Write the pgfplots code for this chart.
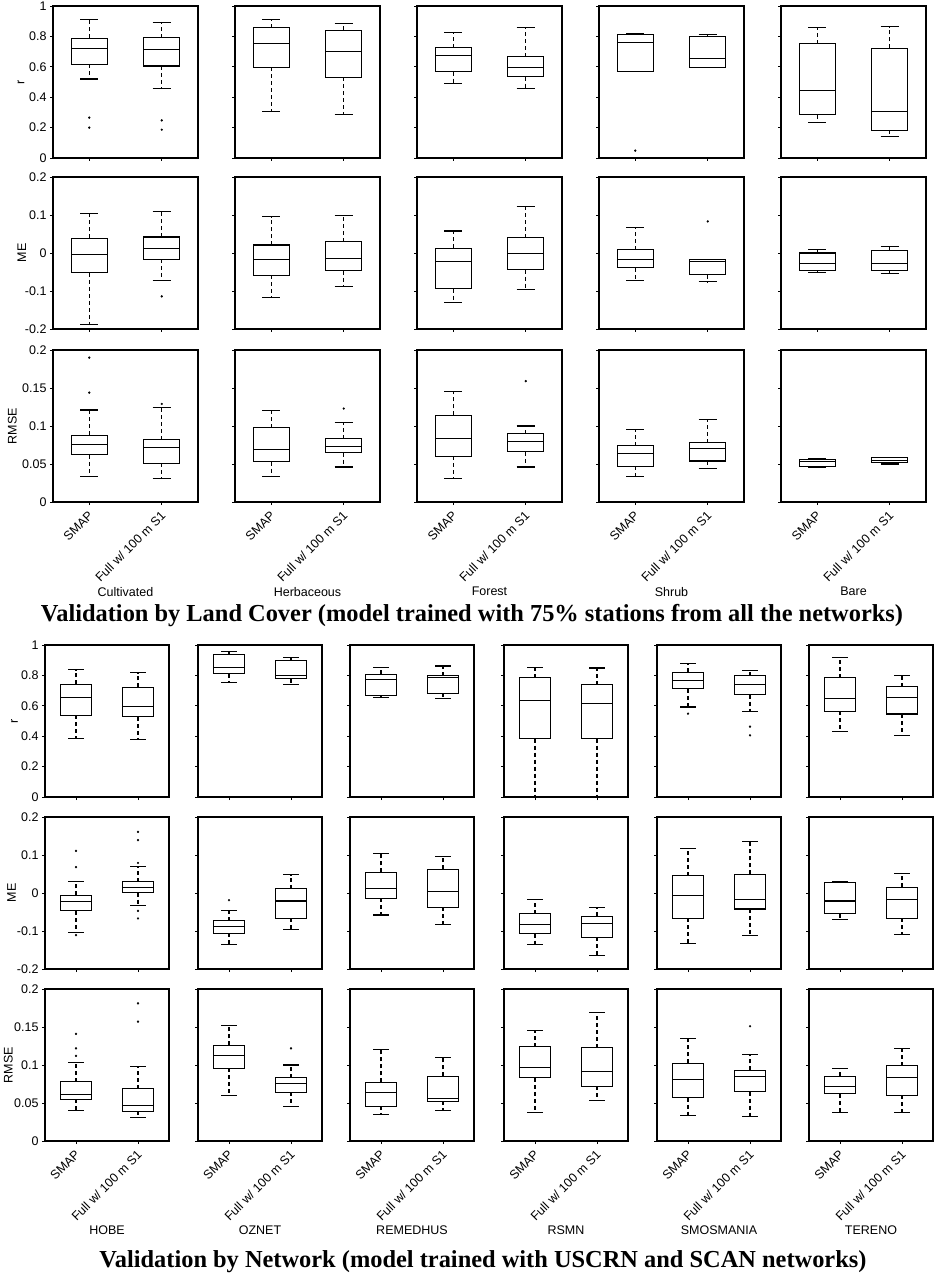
\documentclass[border=0pt]{standalone}
\usepackage{fontspec}
\setmainfont{Liberation Sans}
\newfontfamily\ttlfont{Liberation Serif}
\usepackage{pgfplots}
\pgfplotsset{compat=1.18}
\usepgfplotslibrary{statistics}

% dashed whisker, solid cap
\pgfplotsset{
  boxplot/draw/lower whisker/.code={%
    \draw[line width=1.1pt, dash pattern=on 4pt off 3pt]
      (boxplot cs:\pgfplotsboxplotvalue{lower quartile}) --
      (boxplot cs:\pgfplotsboxplotvalue{lower whisker});
    \draw[line width=1.1pt]
      (boxplot whisker cs:\pgfplotsboxplotvalue{lower whisker},0) --
      (boxplot whisker cs:\pgfplotsboxplotvalue{lower whisker},1);
  },
  boxplot/draw/upper whisker/.code={%
    \draw[line width=1.1pt, dash pattern=on 4pt off 3pt]
      (boxplot cs:\pgfplotsboxplotvalue{upper quartile}) --
      (boxplot cs:\pgfplotsboxplotvalue{upper whisker});
    \draw[line width=1.1pt]
      (boxplot whisker cs:\pgfplotsboxplotvalue{upper whisker},0) --
      (boxplot whisker cs:\pgfplotsboxplotvalue{upper whisker},1);
  },
  pan/.style={
    scale only axis, height=152pt, anchor=north west,
    xmin=0.5, xmax=2.5, xtick={1,2}, xticklabels={},
    axis line style={line width=1.2pt},
    tick align=outside, tick pos=left, major tick length=3pt,
    tick style={line width=0.8pt, black},
    yticklabels={},
    tick label style={font=\fontsize{12.5}{14}\selectfont},
    label style={font=\fontsize{12.5}{15}\selectfont},
    boxplot/draw direction=y,
    boxplot/box extend=0.5,
    boxplot/whisker extend=0.25,
    boxplot/every box/.style={line width=1.1pt},
    boxplot/every median/.style={line width=1.1pt},
  },
  wt/.style={width=145pt},
  wb/.style={width=124pt},
  rr/.style={ymin=0, ymax=1, ytick={0,0.2,0.4,0.6,0.8,1}},
  me/.style={ymin=-0.2, ymax=0.2, ytick={-0.2,-0.1,0,0.1,0.2}},
  rm/.style={ymin=0, ymax=0.2, ytick={0,0.05,0.1,0.15,0.2}},
  % y labels of the first column, #1 = horizontal place in axis units
  rrl/.style={yticklabels={0,0.2,0.4,0.6,0.8,1}, ylabel={r},
    ylabel style={at={(axis description cs:#1,0.5)}, anchor=center}},
  mel/.style={yticklabels={-0.2,-0.1,0,0.1,0.2}, ylabel={ME},
    ylabel style={at={(axis description cs:#1,0.5)}, anchor=center}},
  rml/.style={yticklabels={0,0.05,0.1,0.15,0.2}, ylabel={RMSE},
    ylabel style={at={(axis description cs:#1,0.5)}, anchor=center}},
  bot/.style={xticklabels={SMAP,Full w/ 100 m S1},
    xticklabel style={xshift=4pt, yshift=-6pt, rotate=45, anchor=east},
    xlabel={#1},
    xlabel style={at={(axis description cs:0.5,-0.59)}, anchor=center}},
}

% \bx{position}{lower whisker}{lower quartile}{median}{upper quartile}{upper whisker}{outliers}
\newcommand{\bx}[7]{%
  \addplot[black, line width=1.1pt, mark=*, mark size=1pt,
    mark options={solid, line width=0.3pt, fill=black},
    boxplot prepared={draw position=#1, lower whisker=#2, lower quartile=#3,
      median=#4, upper quartile=#5, upper whisker=#6}]
    coordinates {#7};}

\begin{document}
\begin{tikzpicture}
\useasboundingbox (0pt,0pt) rectangle (937pt,-1276pt);

% ---------- land cover: r ----------
\begin{axis}[pan, wt, rr, rrl=-0.22, at={(53pt,-6pt)}]
\bx{1}{0.520}{0.616}{0.718}{0.788}{0.913}{(1,0.266) (1,0.200)}
\bx{2}{0.456}{0.605}{0.714}{0.790}{0.893}{(2,0.247) (2,0.186)}
\end{axis}
\begin{axis}[pan, wt, rr, at={(235pt,-6pt)}]
\bx{1}{0.308}{0.596}{0.753}{0.856}{0.913}{}
\bx{2}{0.286}{0.531}{0.699}{0.841}{0.886}{}
\end{axis}
\begin{axis}[pan, wt, rr, at={(417pt,-6pt)}]
\bx{1}{0.489}{0.568}{0.675}{0.725}{0.828}{}
\bx{2}{0.456}{0.535}{0.594}{0.666}{0.860}{}
\end{axis}
\begin{axis}[pan, wt, rr, at={(599pt,-6pt)}]
\bx{1}{0.572}{0.572}{0.758}{0.810}{0.819}{(1,0.048)}
\bx{2}{0.594}{0.594}{0.655}{0.801}{0.812}{}
\end{axis}
\begin{axis}[pan, wt, rr, at={(781pt,-6pt)}]
\bx{1}{0.234}{0.284}{0.445}{0.753}{0.858}{}
\bx{2}{0.142}{0.181}{0.303}{0.721}{0.865}{}
\end{axis}

% ---------- land cover: ME ----------
\begin{axis}[pan, wt, me, mel=-0.215, at={(53pt,-177pt)}]
\bx{1}{-0.189}{-0.052}{-0.005}{0.039}{0.105}{}
\bx{2}{-0.073}{-0.017}{0.013}{0.042}{0.110}{(2,-0.114)}
\end{axis}
\begin{axis}[pan, wt, me, at={(235pt,-177pt)}]
\bx{1}{-0.117}{-0.059}{-0.017}{0.021}{0.096}{}
\bx{2}{-0.089}{-0.047}{-0.015}{0.030}{0.099}{}
\end{axis}
\begin{axis}[pan, wt, me, at={(417pt,-177pt)}]
\bx{1}{-0.130}{-0.094}{-0.023}{0.013}{0.058}{}
\bx{2}{-0.095}{-0.044}{-0.002}{0.040}{0.123}{}
\end{axis}
\begin{axis}[pan, wt, me, at={(599pt,-177pt)}]
\bx{1}{-0.072}{-0.039}{-0.017}{0.009}{0.067}{}
\bx{2}{-0.076}{-0.057}{-0.023}{-0.017}{-0.017}{(2,0.083)}
\end{axis}
\begin{axis}[pan, wt, me, at={(781pt,-177pt)}]
\bx{1}{-0.052}{-0.046}{-0.028}{0.000}{0.010}{}
\bx{2}{-0.053}{-0.046}{-0.027}{0.007}{0.018}{}
\end{axis}

% ---------- land cover: RMSE ----------
\begin{axis}[pan, wt, rm, rml=-0.28, bot=Cultivated, at={(53pt,-350pt)}]
\bx{1}{0.034}{0.062}{0.076}{0.088}{0.121}{(1,0.190) (1,0.144)}
\bx{2}{0.031}{0.051}{0.072}{0.082}{0.124}{(2,0.129)}
\end{axis}
\begin{axis}[pan, wt, rm, bot=Herbaceous, at={(235pt,-350pt)}]
\bx{1}{0.034}{0.053}{0.069}{0.098}{0.120}{}
\bx{2}{0.046}{0.065}{0.073}{0.083}{0.105}{(2,0.123)}
\end{axis}
\begin{axis}[pan, wt, rm, bot=Forest, at={(417pt,-350pt)}]
\bx{1}{0.031}{0.060}{0.083}{0.114}{0.145}{}
\bx{2}{0.046}{0.066}{0.080}{0.090}{0.100}{(2,0.159)}
\end{axis}
\begin{axis}[pan, wt, rm, bot=Shrub, at={(599pt,-350pt)}]
\bx{1}{0.034}{0.047}{0.064}{0.074}{0.095}{}
\bx{2}{0.044}{0.054}{0.070}{0.078}{0.109}{}
\end{axis}
\begin{axis}[pan, wt, rm, bot=Bare, at={(781pt,-350pt)}]
\bx{1}{0.045}{0.047}{0.053}{0.056}{0.057}{}
\bx{2}{0.050}{0.052}{0.055}{0.058}{0.058}{}
\end{axis}

\node[font=\ttlfont\bfseries\fontsize{24.4}{28}\selectfont] at (472pt,-616pt)
  {Validation by Land Cover (model trained with 75\% stations from all the networks)};

% ---------- network: r ----------
\begin{axis}[pan, wb, rr, rrl=-0.245, at={(45pt,-645pt)}]
\bx{1}{0.382}{0.537}{0.653}{0.742}{0.836}{}
\bx{2}{0.378}{0.528}{0.596}{0.721}{0.817}{}
\end{axis}
\begin{axis}[pan, wb, rr, at={(198pt,-645pt)}]
\bx{1}{0.751}{0.810}{0.854}{0.939}{0.959}{}
\bx{2}{0.742}{0.779}{0.801}{0.900}{0.919}{}
\end{axis}
\begin{axis}[pan, wb, rr, at={(350pt,-645pt)}]
\bx{1}{0.653}{0.668}{0.773}{0.806}{0.852}{}
\bx{2}{0.648}{0.681}{0.784}{0.797}{0.862}{}
\end{axis}
\begin{axis}[pan, wb, rr, at={(504pt,-645pt)}]
\bx{1}{-0.100}{0.384}{0.635}{0.784}{0.854}{}
\bx{2}{-0.100}{0.384}{0.614}{0.740}{0.849}{}
\end{axis}
\begin{axis}[pan, wb, rr, at={(657pt,-645pt)}]
\bx{1}{0.592}{0.712}{0.769}{0.821}{0.876}{(1,0.548)}
\bx{2}{0.561}{0.673}{0.740}{0.799}{0.834}{(2,0.463) (2,0.406)}
\end{axis}
\begin{axis}[pan, wb, rr, at={(809pt,-645pt)}]
\bx{1}{0.430}{0.563}{0.648}{0.786}{0.915}{}
\bx{2}{0.406}{0.546}{0.653}{0.727}{0.801}{}
\end{axis}

% ---------- network: ME ----------
\begin{axis}[pan, wb, me, mel=-0.27, at={(45pt,-817pt)}]
\bx{1}{-0.104}{-0.047}{-0.023}{-0.006}{0.031}{(1,0.111) (1,0.068) (1,-0.111)}
\bx{2}{-0.034}{0.001}{0.014}{0.030}{0.070}{(2,0.161) (2,0.139) (2,0.079) (2,-0.047) (2,-0.067)}
\end{axis}
\begin{axis}[pan, wb, me, at={(198pt,-817pt)}]
\bx{1}{-0.136}{-0.106}{-0.089}{-0.073}{-0.046}{(1,-0.019)}
\bx{2}{-0.096}{-0.066}{-0.021}{0.011}{0.048}{}
\end{axis}
\begin{axis}[pan, wb, me, at={(350pt,-817pt)}]
\bx{1}{-0.058}{-0.014}{0.011}{0.054}{0.104}{}
\bx{2}{-0.082}{-0.037}{0.004}{0.062}{0.097}{}
\end{axis}
\begin{axis}[pan, wb, me, at={(504pt,-817pt)}]
\bx{1}{-0.136}{-0.107}{-0.084}{-0.054}{-0.017}{}
\bx{2}{-0.164}{-0.116}{-0.080}{-0.061}{-0.039}{}
\end{axis}
\begin{axis}[pan, wb, me, at={(657pt,-817pt)}]
\bx{1}{-0.132}{-0.067}{-0.007}{0.046}{0.117}{}
\bx{2}{-0.111}{-0.042}{-0.016}{0.049}{0.135}{}
\end{axis}
\begin{axis}[pan, wb, me, at={(809pt,-817pt)}]
\bx{1}{-0.069}{-0.054}{-0.021}{0.027}{0.030}{}
\bx{2}{-0.110}{-0.066}{-0.016}{0.015}{0.051}{}
\end{axis}

% ---------- network: RMSE ----------
\begin{axis}[pan, wb, rm, rml=-0.295, bot=HOBE, at={(45pt,-989pt)}]
\bx{1}{0.040}{0.055}{0.061}{0.078}{0.103}{(1,0.141) (1,0.122) (1,0.112)}
\bx{2}{0.031}{0.039}{0.047}{0.069}{0.098}{(2,0.181) (2,0.157)}
\end{axis}
\begin{axis}[pan, wb, rm, bot=OZNET, at={(198pt,-989pt)}]
\bx{1}{0.060}{0.096}{0.113}{0.126}{0.152}{}
\bx{2}{0.045}{0.064}{0.076}{0.083}{0.100}{(2,0.122)}
\end{axis}
\begin{axis}[pan, wb, rm, bot=REMEDHUS, at={(350pt,-989pt)}]
\bx{1}{0.035}{0.046}{0.064}{0.077}{0.120}{}
\bx{2}{0.040}{0.052}{0.056}{0.085}{0.110}{}
\end{axis}
\begin{axis}[pan, wb, rm, bot=RSMN, at={(504pt,-989pt)}]
\bx{1}{0.038}{0.083}{0.097}{0.124}{0.146}{}
\bx{2}{0.053}{0.072}{0.091}{0.123}{0.169}{}
\end{axis}
\begin{axis}[pan, wb, rm, bot=SMOSMANIA, at={(657pt,-989pt)}]
\bx{1}{0.033}{0.057}{0.081}{0.102}{0.135}{}
\bx{2}{0.032}{0.065}{0.085}{0.093}{0.114}{(2,0.151)}
\end{axis}
\begin{axis}[pan, wb, rm, bot=TERENO, at={(809pt,-989pt)}]
\bx{1}{0.037}{0.062}{0.072}{0.085}{0.096}{}
\bx{2}{0.037}{0.060}{0.084}{0.099}{0.122}{}
\end{axis}

\node[font=\ttlfont\bfseries\fontsize{24.4}{28}\selectfont] at (483pt,-1262pt)
  {Validation by Network (model trained with USCRN and SCAN networks)};
\end{tikzpicture}
\end{document}
